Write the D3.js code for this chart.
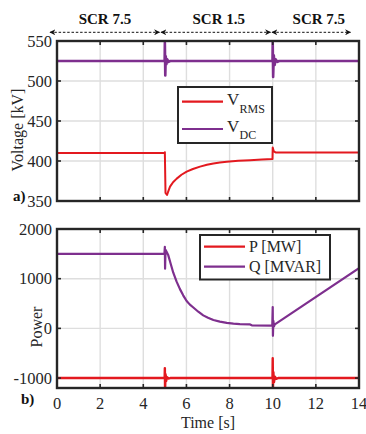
<!DOCTYPE html>
<html>
<head>
<meta charset="utf-8">
<script src="https://cdn.jsdelivr.net/npm/d3@7"></script>
<style>
  html, body { margin: 0; padding: 0; background: #fff; }
  svg { display: block; }
</style>
</head>
<body>
<svg id="chart" width="366" height="434" font-family="'Liberation Serif', 'Times New Roman', serif"></svg>
<script>
// ---- data ----
const xTicks = [0, 2, 4, 6, 8, 10, 12, 14];
const voltTicks = [350, 400, 450, 500, 550];
const powerTicks = [-1000, 0, 1000, 2000];

const scrLabels = ["SCR 7.5", "SCR 1.5", "SCR 7.5"];
const scrSpans = [[0, 5], [5, 10], [10, 14]];

// [time s, kV]
const vRms = [
  [0, 410], [4.99, 410], [5.0, 411], [5.03, 360], [5.1, 357.5], [5.17, 363],
  [5.24, 368], [5.38, 373.5], [5.55, 378], [5.77, 382.8], [6.01, 386.7],
  [6.3, 390], [6.63, 393], [6.95, 395.2], [7.25, 397], [7.55, 398.1],
  [7.87, 399], [8.4, 400.2], [8.95, 401], [9.5, 401.8], [9.99, 402.5],
  [10.0, 417], [10.05, 412], [10.15, 410.5], [14, 410.5]
];
const vDc = [
  [0, 525], [4.99, 525], [5.0, 548], [5.02, 507], [5.04, 531], [5.07, 521],
  [5.11, 527], [5.17, 524], [5.25, 525], [9.99, 525], [10.0, 549],
  [10.02, 505], [10.05, 532], [10.09, 520], [10.14, 527], [10.22, 524],
  [10.3, 525], [14, 525]
];
// [time s, MW]
const pAct = [
  [0, -1000], [4.99, -1000], [5.0, -800], [5.01, -1250], [5.03, -920],
  [5.06, -1060], [5.1, -980], [5.16, -1010], [5.25, -1000], [9.99, -1000],
  [10.0, -600], [10.01, -1220], [10.03, -880], [10.06, -1080], [10.1, -970],
  [10.16, -1015], [10.25, -1000], [14, -1000]
];
// [time s, MVAR]
const qReact = [
  [0, 1500], [4.98, 1500], [5.0, 1640], [5.01, 1200], [5.03, 1580],
  [5.08, 1540], [5.16, 1470], [5.27, 1300], [5.39, 1120], [5.54, 945],
  [5.7, 790], [5.85, 665], [6.01, 550], [6.16, 478], [6.32, 420],
  [6.55, 335], [6.78, 262], [7.0, 212], [7.25, 168], [7.55, 135],
  [7.87, 110], [8.18, 95], [8.48, 86], [8.95, 80], [9.03, 62],
  [9.98, 55], [10.0, 430], [10.01, -150], [10.03, 150], [10.06, 40],
  [10.1, 80], [14, 1210]
];

const red = "#e3191f";
const purple = "#7e2f8e";
const dark = "#262626";

const svg = d3.select("#chart");

const x = d3.scaleLinear().domain([0, 14]).range([57, 359]);
const yV = d3.scaleLinear().domain([350, 550]).range([201, 41]);
const yP = d3.scaleLinear().domain([-1200, 2000]).range([388, 229]);

let clipId = 0;
function panel(y, yTickVals, series) {
  const [y0, y1] = y.range();
  const top = y1, bottom = y0, left = x.range()[0], right = x.range()[1];
  const g = svg.append("g");

  // grid
  g.append("g").selectAll("line").data(xTicks.slice(1, -1)).join("line")
    .attr("x1", d => x(d)).attr("x2", d => x(d))
    .attr("y1", top).attr("y2", bottom)
    .attr("stroke", "#dedede").attr("stroke-width", 1.4);
  g.append("g").selectAll("line").data(yTickVals.filter(v => y(v) > top + 1 && y(v) < bottom - 1)).join("line")
    .attr("x1", left).attr("x2", right)
    .attr("y1", d => y(d)).attr("y2", d => y(d))
    .attr("stroke", "#dedede").attr("stroke-width", 1.4);

  // series
  const id = "clip" + (clipId++);
  svg.append("clipPath").attr("id", id).append("rect")
    .attr("x", left).attr("y", top).attr("width", right - left).attr("height", bottom - top);
  const line = d3.line().x(d => x(d[0])).y(d => y(d[1]));
  series.forEach(s => {
    g.append("path").attr("d", line(s.data)).attr("clip-path", `url(#${id})`)
      .attr("fill", "none").attr("stroke", s.color).attr("stroke-width", s.width)
      .attr("stroke-linejoin", "round");
  });

  // ticks inside, on all four sides
  const tl = 4;
  const tk = g.append("g").attr("stroke", dark).attr("stroke-width", 1.6);
  xTicks.slice(1, -1).forEach(v => {
    tk.append("line").attr("x1", x(v)).attr("x2", x(v)).attr("y1", top).attr("y2", top + tl);
    tk.append("line").attr("x1", x(v)).attr("x2", x(v)).attr("y1", bottom).attr("y2", bottom - tl);
  });
  yTickVals.forEach(v => {
    tk.append("line").attr("x1", left).attr("x2", left + tl).attr("y1", y(v)).attr("y2", y(v));
    tk.append("line").attr("x1", right).attr("x2", right - tl).attr("y1", y(v)).attr("y2", y(v));
  });

  // frame
  g.append("rect").attr("x", left).attr("y", top).attr("width", right - left).attr("height", bottom - top)
    .attr("fill", "none").attr("stroke", dark).attr("stroke-width", 2.4);

  // y tick labels
  g.append("g").selectAll("text").data(yTickVals).join("text")
    .attr("x", left - 5).attr("y", d => y(d) + 5.5)
    .attr("text-anchor", "end").attr("font-size", 16.5).attr("fill", dark)
    .text(d => d);
  return g;
}

panel(yV, voltTicks, [
  { data: vRms, color: red, width: 2 },
  { data: vDc, color: purple, width: 2.6 }
]);
panel(yP, powerTicks, [
  { data: qReact, color: purple, width: 2.2 },
  { data: pAct, color: red, width: 2.4 }
]);

// x tick labels (bottom panel)
svg.append("g").selectAll("text").data(xTicks).join("text")
  .attr("x", d => x(d)).attr("y", 409)
  .attr("text-anchor", "middle").attr("font-size", 16.5).attr("fill", dark)
  .text(d => d);

svg.append("text").attr("x", x(7)).attr("y", 428).attr("text-anchor", "middle")
  .attr("font-size", 16).attr("fill", dark).text("Time [s]");

svg.append("text").attr("transform", "translate(23,130) rotate(-90)")
  .attr("text-anchor", "middle").attr("font-size", 16).attr("fill", dark).text("Voltage [kV]");
svg.append("text").attr("transform", "translate(42,327) rotate(-90)")
  .attr("text-anchor", "middle").attr("font-size", 16).attr("fill", dark).text("Power");

svg.append("text").attr("x", 13).attr("y", 201).attr("font-size", 15).attr("font-weight", "bold")
  .attr("fill", "#111").text("a)");
svg.append("text").attr("x", 21).attr("y", 404).attr("font-size", 15).attr("font-weight", "bold")
  .attr("fill", "#111").text("b)");

// SCR interval headers with double-headed dashed arrows
const defs = svg.append("defs");
defs.append("marker").attr("id", "ah").attr("viewBox", "0 0 10 10")
  .attr("refX", 9).attr("refY", 5).attr("markerWidth", 6).attr("markerHeight", 6)
  .attr("markerUnits", "userSpaceOnUse").attr("orient", "auto-start-reverse")
  .append("path").attr("d", "M0,0 L10,5 L0,10 L3,5 Z").attr("fill", "#111");

const spanX = [[50, 159.5], [161, 270.5], [272, 350.5]];
scrSpans.forEach((s, i) => {
  const [a, b] = spanX[i];
  svg.append("line").attr("x1", a).attr("x2", b).attr("y1", 32.3).attr("y2", 32.3)
    .attr("stroke", "#111").attr("stroke-width", 1).attr("stroke-dasharray", "2.5,1.8")
    .attr("marker-start", "url(#ah)").attr("marker-end", "url(#ah)");
  svg.append("text").attr("x", (x(s[0]) + x(s[1])) / 2 + (i === 0 ? -6 : (i === 2 ? 3 : 0)))
    .attr("y", 23.5).attr("text-anchor", "middle").attr("font-size", 15).attr("font-weight", "bold")
    .attr("fill", "#111").text(scrLabels[i]);
});

// legend, voltage panel
const lg1 = svg.append("g");
lg1.append("rect").attr("x", 178).attr("y", 87).attr("width", 94).attr("height", 56)
  .attr("fill", "#fff").attr("stroke", dark).attr("stroke-width", 2);
[[red, "RMS", 101.7, 105, 112.7], [purple, "DC", 129, 132.3, 139]].forEach(([c, sub, ly, vb, sb]) => {
  lg1.append("line").attr("x1", 182).attr("x2", 223).attr("y1", ly).attr("y2", ly)
    .attr("stroke", c).attr("stroke-width", 2.2);
  lg1.append("text").attr("x", 227).attr("y", vb).attr("font-size", 17).attr("fill", dark).text("V");
  lg1.append("text").attr("x", 239.5).attr("y", sb).attr("font-size", 12).attr("fill", dark).text(sub);
});

// legend, power panel
const lg2 = svg.append("g");
lg2.append("rect").attr("x", 200).attr("y", 235).attr("width", 130).attr("height", 44.5)
  .attr("fill", "#fff").attr("stroke", dark).attr("stroke-width", 2);
[[red, "P [MW]", 246.7], [purple, "Q [MVAR]", 266.7]].forEach(([c, t, ly]) => {
  lg2.append("line").attr("x1", 204).attr("x2", 245).attr("y1", ly).attr("y2", ly)
    .attr("stroke", c).attr("stroke-width", 2.2);
  lg2.append("text").attr("x", 249).attr("y", ly + 5.3).attr("font-size", 16).attr("fill", dark).text(t);
});
</script>
</body>
</html>
